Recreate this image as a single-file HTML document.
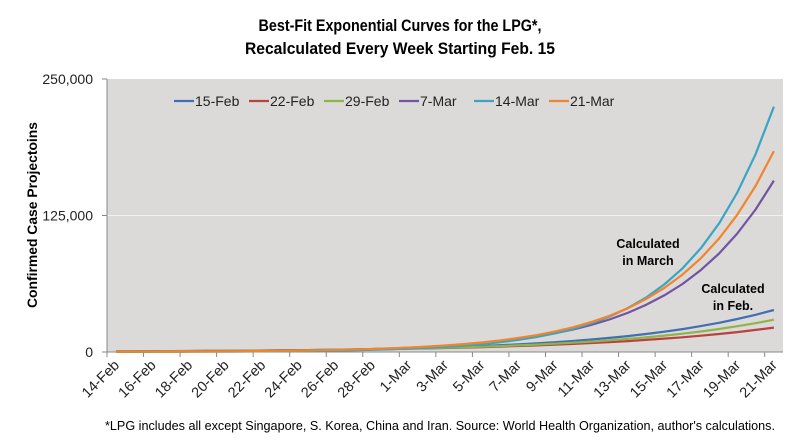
<!DOCTYPE html>
<html><head><meta charset="utf-8"><style>
body{margin:0;background:#fff;}
svg{display:block;font-family:"Liberation Sans",sans-serif;}
</style></head><body>
<svg id="chart" width="800" height="443">
<text x="400" y="31" text-anchor="middle" font-size="17" font-weight="bold" textLength="283" lengthAdjust="spacingAndGlyphs">Best-Fit Exponential Curves for the LPG*,</text>
<text x="400" y="54" text-anchor="middle" font-size="17" font-weight="bold" textLength="310" lengthAdjust="spacingAndGlyphs">Recalculated Every Week Starting Feb. 15</text>
<rect x="107" y="79" width="676" height="273" fill="#dcd9d9"/>
<g id="grid"></g><g id="axes"></g><g id="series"></g><g id="legend"></g>
<text transform="translate(37,215) rotate(-90)" text-anchor="middle" font-size="14" font-weight="bold" textLength="186" lengthAdjust="spacingAndGlyphs">Confirmed Case Projectoins</text>
<text x="648" y="248" text-anchor="middle" font-size="12.5" font-weight="bold"><tspan x="648">Calculated</tspan><tspan x="648" dy="17">in March</tspan></text>
<text x="733" y="293" text-anchor="middle" font-size="12.5" font-weight="bold"><tspan x="733">Calculated</tspan><tspan x="733" dy="17">in Feb.</tspan></text>
<text x="440" y="430" text-anchor="middle" font-size="12.5" textLength="670" lengthAdjust="spacingAndGlyphs">*LPG includes all except Singapore, S. Korea, China and Iran. Source: World Health Organization, author's calculations.</text>
</svg>
<script>
const categories=["14-Feb","15-Feb","16-Feb","17-Feb","18-Feb","19-Feb","20-Feb","21-Feb","22-Feb","23-Feb","24-Feb","25-Feb","26-Feb","27-Feb","28-Feb","29-Feb","1-Mar","2-Mar","3-Mar","4-Mar","5-Mar","6-Mar","7-Mar","8-Mar","9-Mar","10-Mar","11-Mar","12-Mar","13-Mar","14-Mar","15-Mar","16-Mar","17-Mar","18-Mar","19-Mar","20-Mar","21-Mar"];
const seriesNames=["15-Feb","22-Feb","29-Feb","7-Mar","14-Mar","21-Mar"];
const s15Feb=[487,550,622,700,790,895,1010,1140,1290,1450,1640,1850,2090,2360,2660,3010,3400,3840,4330,4890,5520,6230,7040,7950,8970,10100,11450,12900,14600,16450,18600,21000,23700,26750,30200,34100,38500];
const s22Feb=[610,675,745,820,910,1000,1110,1230,1360,1500,1660,1830,2020,2240,2470,2730,3020,3340,3690,4070,4500,4970,5500,6070,6710,7420,8200,9060,10000,11050,12250,13500,14950,16500,18250,20200,22300];
const s29Feb=[502,562,629,705,790,884,990,1110,1240,1390,1560,1740,1950,2190,2450,2740,3070,3440,3850,4320,4830,5410,6060,6790,7600,8520,9540,10700,12000,13400,15000,16800,18800,21100,23600,26400,29600];
const s7Mar=[203,244,294,353,425,511,615,740,890,1070,1290,1550,1860,2240,2700,3240,3900,4690,5650,6790,8170,9830,11800,14200,17100,20600,24800,29800,35800,43100,51800,62300,75000,90200,108500,130500,157000];
const s14Mar=[98,121,150,186,230,286,355,440,545,680,840,1040,1290,1600,1980,2450,3000,3800,4700,5800,7200,8900,11100,13700,17000,21100,26100,32400,40200,49800,61800,76600,95000,117800,146100,181100,224600];
const s21Mar=[193,233,282,341,413,500,605,730,885,1070,1290,1570,1900,2290,2770,3360,4060,4900,5950,7200,8700,10500,12800,15400,18700,22600,27400,33100,40000,48500,58600,70900,85800,103900,125700,152100,184000];
const yTicks=[0,125000,250000];
const yTickLabels=["0","125,000","250,000"];
const seriesData=[s15Feb,s22Feb,s29Feb,s7Mar,s14Mar,s21Mar];
const colors=["#3f70b3","#b9413e","#8fb44a","#7254a0","#3aa5c3","#f0852d"];
const NS="http://www.w3.org/2000/svg";
const X0=107,X1=783,Y0=352,Y1=79,YMAX=250000;
const cw=(X1-X0)/categories.length;
const xs=i=>X0+cw*(i+0.5);
const ys=v=>Y0-(v/YMAX)*(Y0-Y1);
function mk(tag,attrs,parent){const e=document.createElementNS(NS,tag);for(const k in attrs)e.setAttribute(k,attrs[k]);parent.appendChild(e);return e;}
const grid=document.getElementById('grid'),axes=document.getElementById('axes'),ser=document.getElementById('series'),leg=document.getElementById('legend');
yTicks.forEach((t,i)=>{
 if(t>0&&t<YMAX){const g=mk('line',{x1:X0,x2:X1,y1:ys(t),y2:ys(t),stroke:'#f2f2f2','stroke-width':1},grid);
 
 }
 const tk=mk('line',{x1:X0-5,x2:X0,y1:ys(t),y2:ys(t),stroke:'#888'},axes);
 
 
 const lb=mk('text',{x:X0-14,y:ys(t)+5,'text-anchor':'end','font-size':'14',fill:'#222'},axes);
 lb.textContent=yTickLabels[i];
 
 
});
const ya=mk('line',{x1:X0,x2:X0,y1:Y1,y2:Y0,stroke:'#888'},axes);


const xa=mk('line',{x1:X0,x2:X1,y1:Y0,y2:Y0,stroke:'#888'},axes);


categories.forEach((c,i)=>{
 if(i%2===0){
  const tx=X0+cw*i;
  const tk=mk('line',{x1:tx,x2:tx,y1:Y0,y2:Y0+5,stroke:'#888'},axes);
  
  
  const lb=mk('text',{transform:`translate(${xs(i)+4},${Y0+14}) rotate(-45)`,'text-anchor':'end','font-size':'14.5',fill:'#222'},axes);
  lb.textContent=c;
  
  
 }
});
seriesData.forEach((d,si)=>{
 const pts=d.map((v,i)=>xs(i).toFixed(1)+','+ys(v).toFixed(1)).join(' ');
 const pl=mk('polyline',{points:pts,fill:'none',stroke:colors[si],'stroke-width':2.2,'stroke-linejoin':'round'},ser);
 
 
 const lx=174+si*75;
 const g=mk('g',{},leg);
 
 
 mk('line',{x1:lx,x2:lx+20,y1:101,y2:101,stroke:colors[si],'stroke-width':2.2},g);
 const t=mk('text',{x:lx+21,y:106,'font-size':'14',fill:'#222'},g);
 t.textContent=seriesNames[si];
});
</script>
</body></html>
